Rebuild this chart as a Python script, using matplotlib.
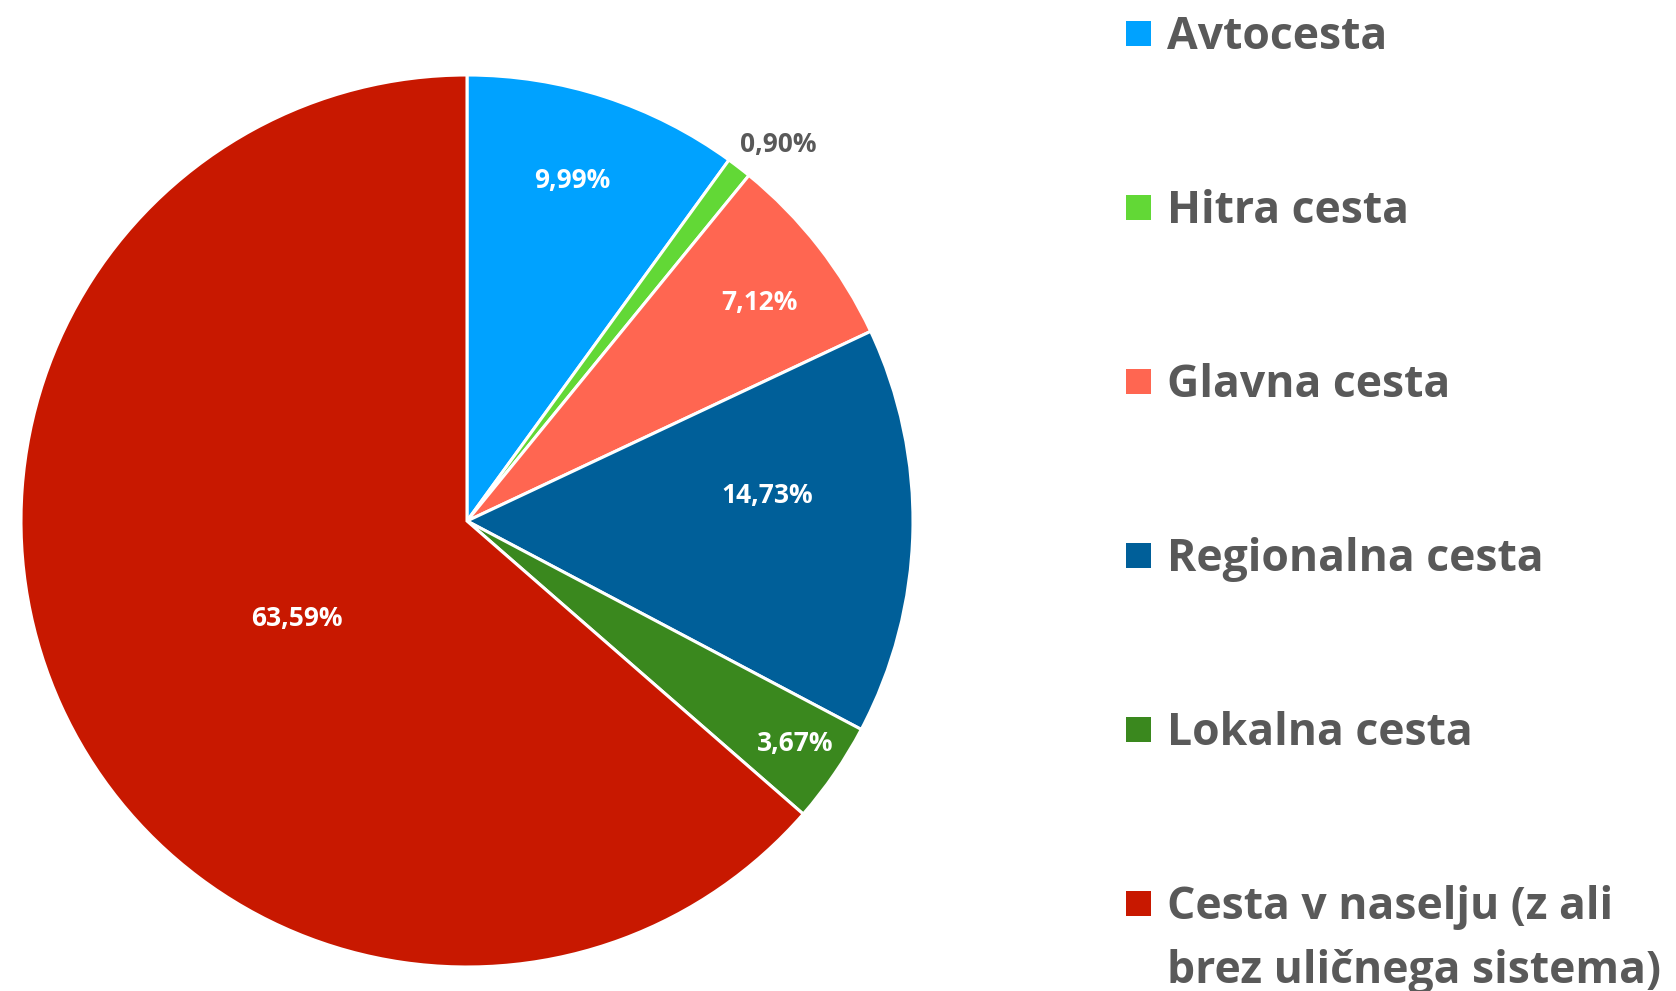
import numpy as np
import matplotlib
matplotlib.use("Agg")
import matplotlib.pyplot as plt
from matplotlib.patches import Rectangle

categories = ["Avtocesta", "Hitra cesta", "Glavna cesta", "Regionalna cesta",
              "Lokalna cesta", "Cesta v naselju (z ali\nbrez uličnega sistema)"]
values = [9.99, 0.90, 7.12, 14.73, 3.67, 63.59]
labels = ["9,99%", "0,90%", "7,12%", "14,73%", "3,67%", "63,59%"]
colors = ["#00A2FF", "#62D836", "#FF6651", "#005F99", "#3A881E", "#C81800"]
label_colors = ["white", "#595959", "white", "white", "white", "white"]
label_dist = [0.80, 1.095, 0.82, 0.676, 0.89, 0.44]
label_angle_shift = [0.8, -2.0, -1.2, 6.2, 0.3, 5.3]

W, H = 1676, 991
fig = plt.figure(figsize=(W / 100, H / 100), dpi=100)
fig.patch.set_facecolor("white")

cx, cy, r = 467, 521, 446
ax = fig.add_axes([(cx - r) / W, (H - cy - r) / H, 2 * r / W, 2 * r / H])
wedges, _ = ax.pie(values, colors=colors, startangle=90, counterclock=False,
                   radius=1.0, wedgeprops=dict(edgecolor="white", linewidth=2.2))
ax.set_xlim(-1, 1)
ax.set_ylim(-1, 1)
ax.set_aspect("equal")
ax.axis("off")

font = "Open Sans"
for w, lab, col, d, sh in zip(wedges, labels, label_colors, label_dist, label_angle_shift):
    ang = np.deg2rad((w.theta1 + w.theta2) / 2 + sh)
    ax.text(d * np.cos(ang), d * np.sin(ang), lab, ha="center", va="center",
            fontsize=19, fontweight="bold", color=col, family=font)

# legend
row0_base = 49
row_step = 174
line_step = 64
for i, (cat, col) in enumerate(zip(categories, colors)):
    base = row0_base + row_step * i
    sq_top = base - 28
    fig.patches.append(Rectangle((1126 / W, (H - sq_top - 25) / H), 25 / W, 25 / H,
                                 transform=fig.transFigure, facecolor=col,
                                 edgecolor="none"))
    for j, line in enumerate(cat.split("\n")):
        fig.text(1167 / W, (H - base - j * line_step) / H, line, ha="left",
                 va="baseline", fontsize=32, fontweight="bold", color="#595959",
                 family=font)

fig.savefig("out.png", dpi=100, facecolor="white")
